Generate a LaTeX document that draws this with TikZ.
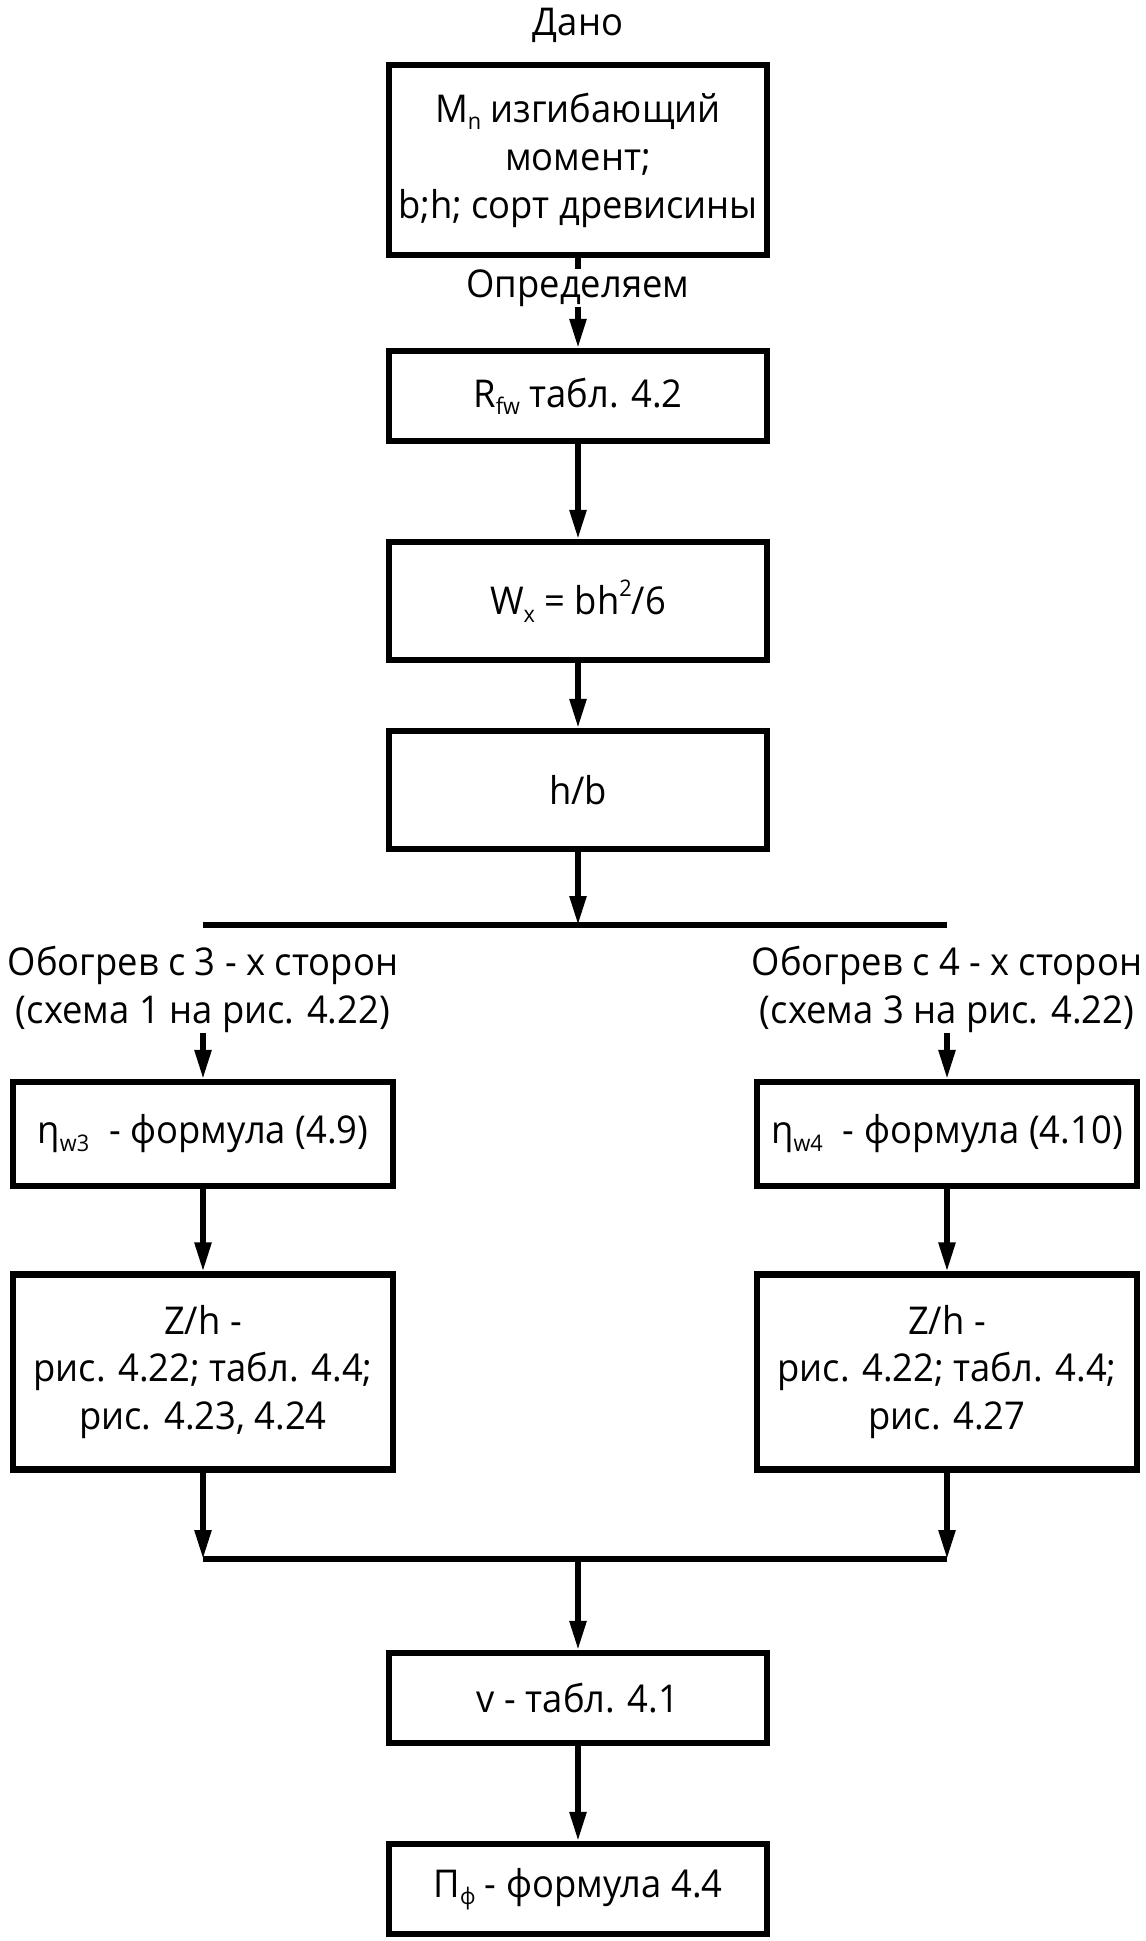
\documentclass[tikz,border=0pt]{standalone}
\usepackage{fontspec}
\setmainfont[FakeStretch=0.95]{Open Sans}
\usetikzlibrary{arrows.meta}
\newcommand\fsz{\fontsize{21.8}{27.3}\selectfont}
\newcommand\lowidx[1]{\raisebox{-0.35ex}{\fontsize{13}{13}\selectfont #1}}
\newcommand\highidx[1]{\raisebox{0.9ex}{\fontsize{13}{13}\selectfont #1}}
\begin{document}
\begin{tikzpicture}[x=0.02cm,y=-0.02cm,
  box/.style={draw, line width=3.5pt, inner sep=0pt, align=center, font=\fsz},
  lbl/.style={inner sep=0pt, align=center, font=\fsz},
  flow/.style={line width=3.1pt, -{Triangle[length=0.58cm,width=0.32cm]}},
  bar/.style={line width=3.1pt}]
\useasboundingbox (0,0) rectangle (1146,1941);

% main column
\node[lbl] (dano) at (578,25) {Дано};
\node[box, minimum width=7.56cm, minimum height=3.8cm] (given) at (578,160)
  {M\lowidx{n} изгибающий\\момент;\\b;h; сорт древисины};
\node[lbl] (opr) at (578,288) {Определяем};
\node[box, minimum width=7.56cm, minimum height=1.8cm] (rfw) at (578,396)
  {R\lowidx{fw} табл. 4.2};
\node[box, minimum width=7.56cm, minimum height=2.36cm] (wx) at (578,601)
  {W\lowidx{x} = bh\highidx{2}/6};
\node[box, minimum width=7.56cm, minimum height=2.36cm] (hb) at (578,790)
  {h/b};

% branching
\coordinate (brL) at (203,925);
\coordinate (brR) at (947,925);
\node[lbl] (t3) at (203,989) {Обогрев с 3 - х сторон\\(схема 1 на рис. 4.22)};
\node[lbl] (t4) at (947,989) {Обогрев с 4 - х сторон\\(схема 3 на рис. 4.22)};
\node[box, minimum width=7.6cm, minimum height=2.08cm] (etaL) at (203,1134)
  {η\lowidx{w3}\; - формула (4.9)};
\node[box, minimum width=7.6cm, minimum height=2.08cm] (etaR) at (947,1134)
  {η\lowidx{w4}\; - формула (4.10)};
\node[box, minimum width=7.6cm, minimum height=3.9cm] (zL) at (203,1372)
  {Z/h -\\рис. 4.22; табл. 4.4;\\рис. 4.23, 4.24};
\node[box, minimum width=7.6cm, minimum height=3.9cm] (zR) at (947,1372)
  {Z/h -\\рис. 4.22; табл. 4.4;\\рис. 4.27};

% merging
\coordinate (mL) at (203,1559);
\coordinate (mR) at (947,1559);
\coordinate (mC) at (578,1559);
\node[box, minimum width=7.56cm, minimum height=1.8cm] (nu) at (578,1698)
  {v - табл. 4.1};
\node[box, minimum width=7.56cm, minimum height=1.8cm] (pf) at (578,1889)
  {П\lowidx{ф} - формула 4.4};

% connectors
\draw[bar] (given.south) -- (opr.north);
\draw[flow] (opr.south) -- (rfw.north);
\draw[flow] (rfw.south) -- (wx.north);
\draw[flow] (wx.south) -- (hb.north);
\draw[flow] (hb.south) -- (hb.south |- brL);
\draw[bar] (brL) -- (brR);
\draw[flow] (t3.south) -- (etaL.north);
\draw[flow] (t4.south) -- (etaR.north);
\draw[flow] (etaL.south) -- (zL.north);
\draw[flow] (etaR.south) -- (zR.north);
\draw[flow] (zL.south) -- (mL);
\draw[flow] (zR.south) -- (mR);
\draw[bar] (mL) -- (mR);
\draw[flow] (mC) -- (nu.north);
\draw[flow] (nu.south) -- (pf.north);
\end{tikzpicture}
\end{document}
